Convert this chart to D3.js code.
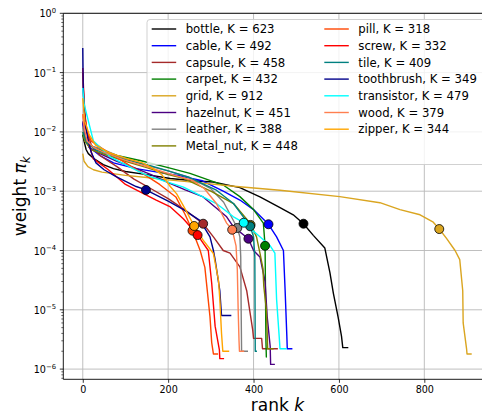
<!DOCTYPE html>
<html>
<head>
<meta charset="utf-8">
<script src="https://cdn.jsdelivr.net/npm/d3@7"></script>
<style>
body { margin: 0; background: #fff; }
text { font-family: "DejaVu Sans", sans-serif; }
</style>
</head>
<body>
<svg id="chart" width="482" height="416"></svg>
<script>
// categories and their number of components
var categories = ["bottle", "cable", "capsule", "carpet", "grid", "hazelnut", "leather", "Metal_nut",
	"pill", "screw", "tile", "toothbrush", "transistor", "wood", "zipper"];
var kValues = [623, 492, 458, 432, 912, 451, 388, 448, 318, 332, 409, 349, 479, 379, 344];
var colors = ["#000000", "#0000ff", "#a52a2a", "#008000", "#daa520", "#4b0082", "#808080", "#808000",
	"#ff4500", "#ff0000", "#008080", "#00008b", "#00ffff", "#ff7f50", "#ffa500"];

// sorted weights, [rank, weight]
var bottle = [[0,9e-3],[3,7e-3],[8,5e-3],[13,4.3e-3],[25,3.6e-3],[48,2.8e-3],[72,2.4e-3],[100,2.15e-3],
	[150,1.9e-3],[205,1.64e-3],[259,1.5e-3],[305,1.43e-3],[368,1.15e-3],[415,8e-4],[462,5.3e-4],[493,4e-4],
	[517,2.83e-4],[540,1.8e-4],[567,1.1e-4],[579,4.2e-5],[587,1.9e-5],[598,7.6e-6],[606,3.6e-6],[609,2.3e-6],[622,2.3e-6]];
var cable = [[0,1.4e-2],[5,8e-3],[15,5.5e-3],[40,4e-3],[72,3e-3],[125,2.4e-3],[175,2.1e-3],[230,1.8e-3],
	[280,1.5e-3],[329,1e-3],[368,7.1e-4],[400,4.9e-4],[435,2.77e-4],[454,1.7e-4],[470,1e-4],[474,2.1e-5],
	[478,3.6e-6],[479,2.2e-6],[491,2.2e-6]];
var capsule = [[0,1e-1],[2,4e-2],[5,1.8e-2],[10,1e-2],[20,6e-3],[40,4e-3],[80,2.6e-3],[120,1.6e-3],
	[160,1.1e-3],[200,7.5e-4],[240,4.8e-4],[282,2.83e-4],[306,1.7e-4],[329,1e-4],[345,9e-5],[368,5.3e-5],
	[384,2.1e-5],[392,8.8e-6],[398,4.6e-6],[400,3.3e-6],[419,3.3e-6],[421,2.2e-6],[457,2.2e-6]];
var carpet = [[0,9e-3],[5,7e-3],[15,6e-3],[40,5e-3],[80,4e-3],[134,3.3e-3],[200,2.5e-3],[251,2e-3],
	[329,1.27e-3],[368,8.1e-4],[400,4.9e-4],[423,2.9e-4],[427,1.2e-4],[428,2e-5],[429,3e-6],[430,1.6e-6],[431,1.6e-6]];
var grid = [[0,4.3e-3],[3,3.2e-3],[12,2.6e-3],[25,2.3e-3],[45,2.1e-3],[100,1.85e-3],[150,1.7e-3],[200,1.55e-3],
	[275,1.38e-3],[360,1.2e-3],[462,1.04e-3],[602,8.1e-4],[696,6.4e-4],[743,4.9e-4],[790,4e-4],[821,3e-4],
	[835,2.3e-4],[852,1.6e-4],[872,1e-4],[883,7e-5],[890,2.1e-5],[891,6e-6],[899,2.2e-6],[900,1.8e-6],[911,1.8e-6]];
var hazelnut = [[0,1.5e-2],[5,8e-3],[15,5.5e-3],[40,4.3e-3],[80,3.2e-3],[120,2.5e-3],[160,1.9e-3],[200,1.4e-3],
	[240,1.05e-3],[282,8e-4],[337,3.7e-4],[353,2.5e-4],[388,1.58e-4],[400,1e-4],[415,7.8e-5],[427,3e-5],
	[432,7.6e-6],[439,2.4e-6],[440,1.2e-6],[450,1.2e-6]];
var leather = [[0,1.2e-2],[5,7e-3],[15,5.8e-3],[40,5.3e-3],[80,4e-3],[142,2.8e-3],[200,2.2e-3],[250,1.7e-3],
	[300,1.1e-3],[330,6.5e-4],[350,3.5e-4],[362,2.4e-4],[368,1.7e-4],[370,7.8e-5],[371,1e-5],[372,2e-6],[387,2e-6]];
var metalNut = [[0,1e-2],[5,7e-3],[20,5e-3],[50,4.2e-3],[100,3.2e-3],[150,2.5e-3],[200,1.9e-3],[236,1.65e-3],
	[300,1e-3],[353,6.2e-4],[392,2.9e-4],[407,1.7e-4],[415,9e-5],[422,5e-5],[424,2.5e-5],[430,1e-5],
	[432,4e-6],[433,2.2e-6],[447,2.2e-6]];
var pill = [[0,2e-2],[5,1.2e-2],[20,7e-3],[60,4.5e-3],[100,3e-3],[140,2e-3],[180,1.3e-3],[218,8e-4],
	[240,4e-4],[257,2.16e-4],[275,1e-4],[286,5.2e-5],[298,7.6e-6],[302,2.8e-6],[306,1.8e-6],[317,1.8e-6]];
var screw = [[0,1.2e-1],[2,5e-2],[5,2e-2],[10,1e-2],[15,6e-3],[25,3.5e-3],[60,2.3e-3],[100,1.3e-3],
	[140,9.3e-4],[172,7.1e-4],[204,5.5e-4],[236,3.4e-4],[269,1.82e-4],[294,1e-4],[302,2.8e-5],[310,5.3e-6],
	[320,2.1e-6],[321,1.5e-6],[331,1.5e-6]];
var tile = [[0,1e-2],[10,6.5e-3],[30,5e-3],[60,4.2e-3],[100,3.4e-3],[150,2.8e-3],[200,2.2e-3],[250,1.7e-3],
	[313,1.04e-3],[353,6.2e-4],[376,3.7e-4],[392,2.56e-4],[400,1.7e-4],[403,7.8e-5],[404,2e-6],[408,2e-6]];
var toothbrush = [[0,2.6e-1],[1,6e-2],[3,2.5e-2],[7,1.2e-2],[13,7e-3],[20,4.5e-3],[31,3e-3],[50,2.3e-3],
	[78,1.76e-3],[125,1.2e-3],[148,1.05e-3],[200,6.8e-4],[236,4.9e-4],[275,3.2e-4],[298,1.7e-4],[306,1e-4],
	[310,7e-5],[321,2.1e-5],[325,8e-6],[348,8e-6]];
var transistor = [[0,5.5e-2],[3,3e-2],[9,2e-2],[25,7e-3],[64,3.8e-3],[100,2.8e-3],[134,2.1e-3],[158,1.76e-3],
	[236,1.17e-3],[313,6.2e-4],[353,3.7e-4],[377,2.94e-4],[415,1.7e-4],[439,1.2e-4],[450,9e-5],[454,1.5e-5],
	[460,3.6e-6],[462,2.2e-6],[478,2.2e-6]];
var wood = [[0,2e-2],[3,1.2e-2],[10,7e-3],[25,5.5e-3],[50,4.5e-3],[100,3.3e-3],[150,2.6e-3],[200,2e-3],
	[259,1.5e-3],[285,1.1e-3],[313,6.2e-4],[337,2.9e-4],[350,2.24e-4],[359,1.2e-4],[362,4.7e-5],[364,1e-5],
	[366,3e-6],[367,2e-6],[378,2e-6]];
var zipper = [[0,3.7e-2],[5,1.5e-2],[15,9e-3],[30,6e-3],[60,4.5e-3],[100,3.6e-3],[140,3e-3],[165,2.4e-3],
	[185,1.9e-3],[205,1.2e-3],[220,9e-4],[240,5e-4],[261,2.59e-4],[282,1.5e-4],[306,8.9e-5],[318,3.1e-5],
	[321,1.5e-5],[325,4e-6],[328,2e-6],[343,2e-6]];
var series = [bottle, cable, capsule, carpet, grid, hazelnut, leather, metalNut,
	pill, screw, tile, toothbrush, transistor, wood, zipper];

// highlighted point of each curve
var markerRank = [517, 435, 282, 427, 835, 388, 362, 393, 257, 269, 392, 148, 377, 350, 261];
var markerWeight = [2.83e-4, 2.77e-4, 2.83e-4, 1.2e-4, 2.3e-4, 1.58e-4, 2.4e-4, 2.7e-4,
	2.16e-4, 1.82e-4, 2.56e-4, 1.05e-3, 2.94e-4, 2.24e-4, 2.59e-4];

var xTicks = [0, 200, 400, 600, 800];
var yTicks = [1e-6, 1e-5, 1e-4, 1e-3, 1e-2, 1e-1, 1e0];

window.onload = function() {
	var left = 63.3, right = 491.6, top = 13.3, bottom = 379.3;

	var svg = d3.select("#chart");

	var x = d3.scaleLinear().domain([-45.6, 957.6]).range([left, right]);
	var y = d3.scaleLog().domain([Math.pow(10, -6.172), 1]).range([bottom, top]);

	// grid
	svg.append("g").selectAll("line").data(xTicks).enter().append("line")
		.attr("x1", function(d) { return x(d); }).attr("x2", function(d) { return x(d); })
		.attr("y1", top).attr("y2", bottom)
		.attr("stroke", "#b8b8b8").attr("stroke-width", 0.9);
	svg.append("g").selectAll("line").data(yTicks).enter().append("line")
		.attr("x1", left).attr("x2", right)
		.attr("y1", function(d) { return y(d); }).attr("y2", function(d) { return y(d); })
		.attr("stroke", "#b8b8b8").attr("stroke-width", 0.9);

	// curves
	var line = d3.line()
		.x(function(d) { return x(d[0]); })
		.y(function(d) { return y(d[1]); });
	svg.append("g").selectAll("path").data(series).enter().append("path")
		.attr("d", line)
		.attr("fill", "none")
		.attr("stroke", function(d, i) { return colors[i]; })
		.attr("stroke-width", 1.4)
		.attr("stroke-linejoin", "round");

	// markers
	svg.append("g").selectAll("circle").data(markerRank).enter().append("circle")
		.attr("cx", function(d) { return x(d); })
		.attr("cy", function(d, i) { return y(markerWeight[i]); })
		.attr("r", 4.5)
		.attr("fill", function(d, i) { return colors[i]; })
		.attr("stroke", "#000").attr("stroke-width", 0.8);

	// x axis
	var xAxis = svg.append("g")
		.attr("transform", "translate(0," + bottom + ")")
		.call(d3.axisBottom(x).tickValues(xTicks).tickSize(3.5).tickPadding(3.5).tickFormat(d3.format("d")));
	xAxis.select(".domain").remove();
	xAxis.selectAll("line").attr("stroke-width", 0.8);
	xAxis.selectAll("text").attr("font-size", "9.6px").attr("font-family", "DejaVu Sans");

	// y axis, major and minor ticks
	var minor = [];
	for (var e = -7; e < 0; e++) {
		for (var m = 2; m < 10; m++) {
			var v = m * Math.pow(10, e);
			if (v >= y.domain()[0] && v <= 1) minor.push(v);
		}
	}
	svg.append("g").selectAll("line").data(minor).enter().append("line")
		.attr("x1", left - 2).attr("x2", left)
		.attr("y1", function(d) { return y(d); }).attr("y2", function(d) { return y(d); })
		.attr("stroke", "#000").attr("stroke-width", 0.6);
	svg.append("g").selectAll("line").data(yTicks).enter().append("line")
		.attr("x1", left - 3.5).attr("x2", left)
		.attr("y1", function(d) { return y(d); }).attr("y2", function(d) { return y(d); })
		.attr("stroke", "#000").attr("stroke-width", 0.8);
	var yLab = svg.append("g").selectAll("text").data(yTicks).enter().append("text")
		.attr("x", 56)
		.attr("y", function(d) { return y(d) + 4; })
		.attr("text-anchor", "end")
		.attr("font-size", "9.6px");
	yLab.append("tspan").text("10");
	yLab.append("tspan")
		.attr("dy", -4.5)
		.attr("font-size", "6.8px")
		.text(function(d) { var p = Math.round(Math.log10(d)); return p < 0 ? "\u2212" + (-p) : "" + p; });

	// spines
	svg.append("line").attr("x1", left).attr("x2", left).attr("y1", top).attr("y2", bottom)
		.attr("stroke", "#000").attr("stroke-width", 0.9);
	svg.append("line").attr("x1", left).attr("x2", right).attr("y1", bottom).attr("y2", bottom)
		.attr("stroke", "#000").attr("stroke-width", 0.9);
	svg.append("line").attr("x1", left).attr("x2", right).attr("y1", top).attr("y2", top)
		.attr("stroke", "#000").attr("stroke-width", 0.9);

	// axis labels
	var xl = svg.append("text")
		.attr("x", (left + right) / 2).attr("y", 411)
		.attr("text-anchor", "middle").attr("font-size", "17px");
	xl.append("tspan").text("rank ");
	xl.append("tspan").attr("font-style", "italic").text("k");

	var yl = svg.append("text")
		.attr("transform", "translate(26," + ((top + bottom) / 2) + ") rotate(-90)")
		.attr("text-anchor", "middle").attr("font-size", "17px");
	yl.append("tspan").text("weight ");
	yl.append("tspan").attr("font-style", "italic").text("\u03c0");
	yl.append("tspan").attr("font-style", "italic").attr("font-size", "12px").attr("dy", 4).text("k");

	// legend
	var legendHolder = svg.append("g");
	legendHolder.append("rect")
		.attr("x", 147).attr("y", 19.5)
		.attr("width", 345).attr("height", 145)
		.attr("rx", 3)
		.attr("fill", "#fff").attr("fill-opacity", 0.8)
		.attr("stroke", "#cccccc").attr("stroke-width", 0.9);

	var legend = legendHolder.selectAll(".legend")
		.data(categories)
		.enter().append("g")
			.attr("class", "legend")
			.attr("transform", function(d, i) {
				var col = i < 8 ? 0 : 1, row = i < 8 ? i : i - 8;
				return "translate(" + (col === 0 ? 151.7 : 324.3) + "," + (29 + row * 16.7) + ")";
			});
	legend.append("line")
		.attr("x1", 0).attr("x2", 24.5)
		.attr("stroke", function(d, i) { return colors[i]; })
		.attr("stroke-width", 1.4);
	legend.append("text")
		.attr("x", 34)
		.attr("dy", "0.36em")
		.attr("font-size", "11.7px")
		.text(function(d, i) { return d + ", K = " + kValues[i]; });
};
</script>
</body>
</html>
